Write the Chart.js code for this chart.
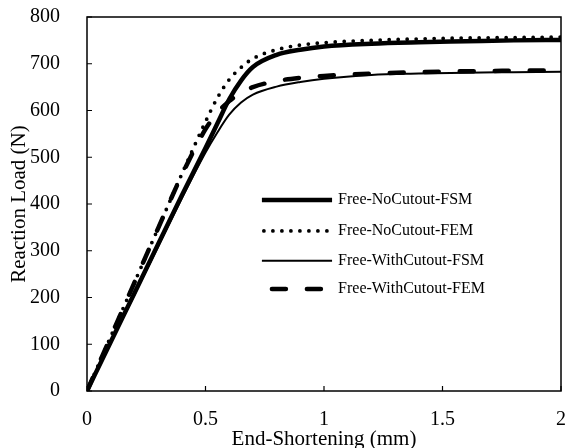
<!DOCTYPE html>
<html>
<head>
<meta charset="utf-8">
<script src="https://cdn.jsdelivr.net/npm/chart.js@4"></script>
<style>
  html, body { margin: 0; padding: 0; background: #fff; }
  #wrap { width: 568px; height: 448px; }
</style>
</head>
<body>
<div id="wrap"><canvas id="chart" width="568" height="448"></canvas></div>
<script>
// end-shortening (mm)
const shortening = [0, 0.1, 0.2, 0.3, 0.4, 0.5, 0.55, 0.6, 0.65, 0.7, 0.8, 0.9, 1.0, 1.2, 1.4, 1.6, 1.8, 2.0];

// reaction load (N)
const noCutoutFSM   = [0, 105, 209, 314, 418, 520, 572, 624, 664, 693, 719, 730, 737, 743, 746, 748, 750, 751];
const noCutoutFEM   = [0, 116, 232, 348, 464, 576, 627, 666, 692, 711, 730, 740, 745, 750, 753, 755, 756, 757];
const withCutoutFSM = [0, 103, 206, 309, 412, 510, 553, 591, 617, 634, 651, 661, 668, 676, 679, 681, 682, 683];
const withCutoutFEM = [0, 116, 232, 348, 462, 560, 595, 620, 638, 650, 663, 670, 674, 679, 682, 684, 685, 686];

const seriesNames = ['Free-NoCutout-FSM', 'Free-NoCutout-FEM', 'Free-WithCutout-FSM', 'Free-WithCutout-FEM'];

const FONT = "'Liberation Serif', 'Times New Roman', serif";

const toPoints = (ys) => shortening.map((x, i) => ({ x: x, y: ys[i] }));

const lineStyles = [
  { borderWidth: 4.5, borderDash: [], borderCapStyle: 'butt' },
  { borderWidth: 3.8, borderDash: [0, 9], borderCapStyle: 'round' },
  { borderWidth: 2, borderDash: [], borderCapStyle: 'butt' },
  { borderWidth: 4.5, borderDash: [14, 21], borderCapStyle: 'round' },
];

const datasets = [noCutoutFSM, noCutoutFEM, withCutoutFSM, withCutoutFEM].map((ys, i) => ({
  label: seriesNames[i],
  data: toPoints(ys),
  borderColor: '#000',
  backgroundColor: '#000',
  pointRadius: 0,
  fill: false,
  cubicInterpolationMode: 'monotone',
  ...lineStyles[i],
}));

// frame, inward ticks and the in-plot legend
const framePlugin = {
  id: 'frame',
  afterDatasetsDraw(chart) {
    const { ctx, chartArea: a, scales } = chart;
    ctx.save();
    ctx.strokeStyle = '#000';
    ctx.lineWidth = 1.5;
    ctx.setLineDash([]);
    ctx.strokeRect(a.left, a.top, a.right - a.left, a.bottom - a.top);

    ctx.lineWidth = 1.2;
    ctx.beginPath();
    scales.x.ticks.forEach(t => {
      const px = scales.x.getPixelForValue(t.value);
      ctx.moveTo(px, a.bottom);
      ctx.lineTo(px, a.bottom - 5);
    });
    scales.y.ticks.forEach(t => {
      const py = scales.y.getPixelForValue(t.value);
      ctx.moveTo(a.left, py);
      ctx.lineTo(a.left + 5, py);
    });
    ctx.stroke();

    // legend
    const w = a.right - a.left, h = a.bottom - a.top;
    const x0 = a.left + 0.369 * w, x1 = a.left + 0.517 * w;
    const rows = [0.489, 0.572, 0.652, 0.727];
    ctx.font = '16px ' + FONT;
    ctx.fillStyle = '#000';
    ctx.textBaseline = 'middle';
    chart.data.datasets.forEach((ds, i) => {
      const y = a.top + rows[i] * h;
      ctx.lineWidth = ds.borderWidth;
      ctx.lineCap = ds.borderCapStyle;
      ctx.setLineDash(ds.borderDash);
      let sx = x0, ex = x1;
      if (i === 3) { sx = x0 + 10; }
      if (i === 1) { sx = x0 + 2; }
      ctx.beginPath();
      ctx.moveTo(sx, y);
      ctx.lineTo(ex, y);
      ctx.stroke();
      ctx.setLineDash([]);
      ctx.fillText(ds.label, x1 + 6, y);
    });
    ctx.restore();
  }
};

new Chart(document.getElementById('chart'), {
  type: 'line',
  data: { datasets },
  plugins: [framePlugin],
  options: {
    responsive: false,
    animation: false,
    layout: { padding: { top: 17, right: 7, left: 0, bottom: 0 } },
    plugins: {
      legend: { display: false },
      tooltip: { enabled: false },
    },
    scales: {
      x: {
        type: 'linear',
        min: 0,
        max: 2,
        ticks: {
          stepSize: 0.5, color: '#000', padding: 9, font: { family: FONT, size: 20 },
          callback: (v) => String(v),
        },
        grid: { display: false },
        border: { display: false },
        title: {
          display: true,
          text: 'End-Shortening (mm)',
          color: '#000',
          font: { family: FONT, size: 21, lineHeight: 0.8 },
          padding: { top: 0, bottom: 0 },
        },
        afterFit(scale) {
          scale.height = 57;
          scale.paddingLeft = 0;
          scale.paddingRight = 0;
        },
      },
      y: {
        min: 0,
        max: 800,
        ticks: { stepSize: 100, color: '#000', padding: 19, font: { family: FONT, size: 20 } },
        grid: { display: false },
        border: { display: false },
        title: {
          display: true,
          text: 'Reaction Load (N)',
          color: '#000',
          font: { family: FONT, size: 21 },
          padding: { top: 7, bottom: 0 },
        },
        afterFit(scale) {
          scale.width = 87;
          scale.paddingTop = 0;
          scale.paddingBottom = 0;
        },
      },
    },
  },
});
</script>
</body>
</html>
